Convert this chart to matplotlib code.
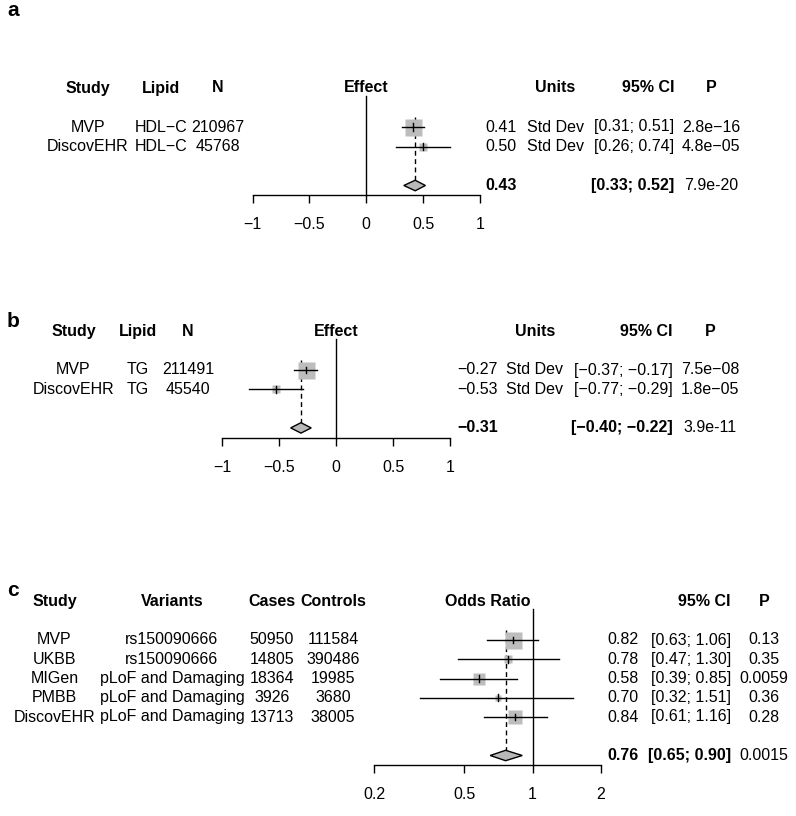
import numpy as np
import matplotlib
matplotlib.use("Agg")
import matplotlib.pyplot as plt
from matplotlib import transforms
from matplotlib.patches import Polygon

W, H = 796, 816
plt.rcParams['font.family'] = ['Liberation Sans', 'DejaVu Sans']
FS = 11.5
MINUS = "\u2212"

# ---------------- Panel a data ----------------
a_study = ["MVP", "DiscovEHR"]
a_lipid = ["HDL" + MINUS + "C", "HDL" + MINUS + "C"]
a_n = ["210967", "45768"]
a_est = [0.41, 0.50]
a_lo = [0.31, 0.26]
a_hi = [0.51, 0.74]
a_weight = [85.1, 14.9]
a_units = ["Std Dev", "Std Dev"]
a_p = ["2.8e" + MINUS + "16", "4.8e" + MINUS + "05"]
a_sum = [0.43, 0.33, 0.52]
a_sum_p = "7.9e-20"

# ---------------- Panel b data ----------------
b_study = ["MVP", "DiscovEHR"]
b_lipid = ["TG", "TG"]
b_n = ["211491", "45540"]
b_est = [-0.27, -0.53]
b_lo = [-0.37, -0.77]
b_hi = [-0.17, -0.29]
b_weight = [85.1, 14.9]
b_units = ["Std Dev", "Std Dev"]
b_p = ["7.5e" + MINUS + "08", "1.8e" + MINUS + "05"]
b_sum = [-0.31, -0.40, -0.22]
b_sum_p = "3.9e-11"

# ---------------- Panel c data ----------------
c_study = ["MVP", "UKBB", "MIGen", "PMBB", "DiscovEHR"]
c_variants = ["rs150090666", "rs150090666", "pLoF and Damaging",
              "pLoF and Damaging", "pLoF and Damaging"]
c_cases = ["50950", "14805", "18364", "3926", "13713"]
c_controls = ["111584", "390486", "19985", "3680", "38005"]
c_est = [0.82, 0.78, 0.58, 0.70, 0.84]
c_lo = [0.63, 0.47, 0.39, 0.32, 0.61]
c_hi = [1.06, 1.30, 0.85, 1.51, 1.16]
c_weight = [40.3, 10.6, 18.0, 4.5, 26.5]
c_p = ["0.13", "0.35", "0.0059", "0.36", "0.28"]
c_sum = [0.76, 0.65, 0.90]
c_sum_p = "0.0015"
c_ticks = [0.2, 0.5, 1, 2]
c_ticklabels = ["0.2", "0.5", "1", "2"]

ab_ticks = [-1, -0.5, 0, 0.5, 1]
ab_ticklabels = [MINUS + "1", MINUS + "0.5", "0", "0.5", "1"]

GRAY_BOX = "#bdbdbd"
GRAY_DIA = "#b8b8b8"
LW = 1.0

fig = plt.figure(figsize=(W / 100, H / 100), dpi=100)
px_x = transforms.Affine2D().scale(1.0 / W, 1.0) + fig.transFigure


def fmt(v):
    return f"{v:.2f}".replace("-", MINUS)


def ci_str(lo, hi):
    return f"[{fmt(lo)}; {fmt(hi)}]"


def panel(letter, letter_y, x0, x1, row0, sp, xlim, logx, ref, header_mid,
          est, lo, hi, weight, summ, ticks, ticklabels,
          left_cols, right_cols, p_list, p_sum, units=None):
    n = len(est)
    top = row0 - 2.5 * sp
    bot = row0 + (n + 1.5) * sp
    ax = fig.add_axes([x0 / W, 1 - bot / H, (x1 - x0) / W, (bot - top) / H])
    if logx:
        ax.set_xscale("log")
    ax.set_xlim(*xlim)
    ax.set_ylim(n + 1.5, -2.5)
    for s in ["left", "right", "top"]:
        ax.spines[s].set_visible(False)
    ax.spines["bottom"].set_linewidth(LW)
    ax.set_yticks([])
    ax.set_xticks(ticks)
    ax.set_xticklabels(ticklabels)
    ax.minorticks_off()
    ax.tick_params(axis="x", direction="out", length=6, width=LW,
                   pad=10, labelsize=FS)
    ax.patch.set_alpha(0)

    rows = np.arange(n)
    wmax = max(weight)
    for i in range(n):
        ms = 17 * 0.72 * np.sqrt(weight[i] / wmax)
        ax.plot([est[i]], [rows[i]], marker="s", ms=ms, mfc=GRAY_BOX,
                mec="none", ls="none", zorder=2)
        ax.plot([lo[i], hi[i]], [rows[i], rows[i]], color="black", lw=LW,
                zorder=3, clip_on=False)
        ax.plot([est[i], est[i]], [rows[i] - 0.18, rows[i] + 0.18],
                color="black", lw=LW, zorder=3)
    # reference line
    ax.plot([ref, ref], [-1.6, n + 1.5], color="black", lw=LW, zorder=1,
            clip_on=False)
    # summary diamond
    s_est, s_lo, s_hi = summ
    ys = n + 1
    h = 0.27
    ax.plot([s_est, s_est], [-0.5, ys - h], color="black", lw=LW,
            dashes=(3.5, 2.5), zorder=1)
    ax.add_patch(Polygon([[s_lo, ys], [s_est, ys - h], [s_hi, ys],
                          [s_est, ys + h]], closed=True, fc=GRAY_DIA,
                         ec="black", lw=LW, zorder=3))
    ax.text(0.5, -2, header_mid, transform=transforms.blended_transform_factory(
        ax.transAxes, ax.transData), ha="center", va="center",
        fontsize=FS, fontweight="bold")

    tr = transforms.blended_transform_factory(px_x, ax.transData)
    for (hdr, xc, vals) in left_cols:
        ax.text(xc, -2, hdr, transform=tr, ha="center", va="center",
                fontsize=FS, fontweight="bold")
        for i, v in enumerate(vals):
            ax.text(xc, rows[i], v, transform=tr, ha="center", va="center",
                    fontsize=FS)
    eff_x, units_x, ci_x, p_x = right_cols
    for i in range(n):
        ax.text(eff_x, rows[i], fmt(est[i]), transform=tr, ha="right",
                va="center", fontsize=FS)
        if units is not None:
            ax.text(units_x, rows[i], units[i], transform=tr, ha="center",
                    va="center", fontsize=FS)
        ax.text(ci_x, rows[i], ci_str(lo[i], hi[i]), transform=tr, ha="right",
                va="center", fontsize=FS)
        ax.text(p_x, rows[i], p_list[i], transform=tr, ha="center",
                va="center", fontsize=FS)
    if units is not None:
        ax.text(units_x, -2, "Units", transform=tr, ha="center", va="center",
                fontsize=FS, fontweight="bold")
    ax.text(ci_x, -2, "95% CI", transform=tr, ha="right", va="center",
            fontsize=FS, fontweight="bold")
    ax.text(p_x, -2, "P", transform=tr, ha="center", va="center",
            fontsize=FS, fontweight="bold")
    ax.text(eff_x, ys, fmt(s_est), transform=tr, ha="right", va="center",
            fontsize=FS, fontweight="bold")
    ax.text(ci_x, ys, ci_str(s_lo, s_hi), transform=tr, ha="right",
            va="center", fontsize=FS, fontweight="bold")
    ax.text(p_x, ys, p_sum, transform=tr, ha="center", va="center",
            fontsize=FS)
    fig.text(7 / W, 1 - letter_y / H, letter, fontsize=15, fontweight="bold",
             ha="left", va="center")
    return ax


panel("a", 10, 252.6, 480, 127, 19.5, (-1, 1), False, 0, "Effect",
      a_est, a_lo, a_hi, a_weight, a_sum, ab_ticks, ab_ticklabels,
      [("Study", 88, a_study), ("Lipid", 161, a_lipid), ("N", 218, a_n)],
      (517, 555.5, 674, 711), a_p, a_sum_p, units=a_units)

panel("b", 322, 222.3, 450.3, 370, 19.3, (-1, 1), False, 0, "Effect",
      b_est, b_lo, b_hi, b_weight, b_sum, ab_ticks, ab_ticklabels,
      [("Study", 73.5, b_study), ("Lipid", 138, b_lipid), ("N", 188, b_n)],
      (498, 535, 673, 710), b_p, b_sum_p, units=b_units)

panel("c", 590, 374, 601, 640, 19.25, (0.2, 2), True, 1, "Odds Ratio",
      c_est, c_lo, c_hi, c_weight, c_sum, c_ticks, c_ticklabels,
      [("Study", 54.5, c_study), ("Variants", 172, c_variants),
       ("Cases", 272, c_cases), ("Controls", 333, c_controls)],
      (639, None, 731, 764), c_p, c_sum_p, units=None)

fig.savefig("out.png", dpi=100)
